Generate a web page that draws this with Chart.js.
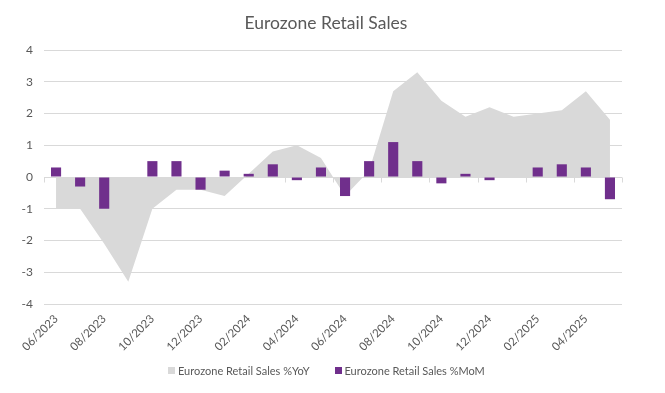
<!DOCTYPE html>
<html>
<head>
<meta charset="utf-8">
<script src="https://cdn.jsdelivr.net/npm/chart.js@4.4.1/dist/chart.umd.min.js"></script>
<style>
  html, body { margin: 0; padding: 0; background: #fff; }
  .chart-wrap { width: 665px; height: 393px; position: relative; }
  .chart-legend {
    position: absolute; left: 168px; top: 362px; height: 16px;
    display: flex; align-items: center;
    font: 11px Lato, "Open Sans", sans-serif; color: #595959;
    white-space: nowrap;
  }
  .legend-item { display: flex; align-items: center; margin-right: 25px; }
  .legend-box { width: 7px; height: 7px; margin-right: 3px; }
</style>
</head>
<body>
<div class="chart-wrap">
  <canvas id="chart"></canvas>
  <div class="chart-legend" id="legend"></div>
</div>
<script>
const months = [
  '06/2023', '07/2023', '08/2023', '09/2023', '10/2023', '11/2023',
  '12/2023', '01/2024', '02/2024', '03/2024', '04/2024', '05/2024',
  '06/2024', '07/2024', '08/2024', '09/2024', '10/2024', '11/2024',
  '12/2024', '01/2025', '02/2025', '03/2025', '04/2025', '05/2025'
];
const salesYoY = [-1.0, -1.0, -2.1, -3.3, -1.0, -0.4, -0.4, -0.6, 0.1, 0.8, 1.0, 0.6,
                  -0.6, 0.2, 2.7, 3.3, 2.4, 1.9, 2.2, 1.9, 2.0, 2.1, 2.7, 1.8];
const salesMoM = [0.3, -0.3, -1.0, 0, 0.5, 0.5, -0.4, 0.2, 0.1, 0.4, -0.1, 0.3,
                  -0.6, 0.5, 1.1, 0.5, -0.2, 0.1, -0.1, 0, 0.3, 0.4, 0.3, -0.7];

const FONT = 'Lato, "Open Sans", sans-serif';
const TEXT = '#595959';
const GRID = '#d9d9d9';

// Excel-style category axis drawn at zero, with tick marks every 2 months
const zeroAxis = {
  id: 'zeroAxis',
  beforeDatasetsDraw(chart) {
    const { ctx, chartArea, scales } = chart;
    const y0 = Math.round(scales.y.getPixelForValue(0)) + 0.5;
    const step = scales.x.getPixelForValue(1) - scales.x.getPixelForValue(0);
    ctx.save();
    ctx.strokeStyle = GRID;
    ctx.lineWidth = 1;
    ctx.beginPath();
    ctx.moveTo(chartArea.left, y0);
    ctx.lineTo(chartArea.right, y0);
    for (let i = 0; i <= months.length; i += 2) {
      const x = Math.round(scales.x.getPixelForValue(i) - step / 2) + 0.5;
      ctx.moveTo(x, y0);
      ctx.lineTo(x, y0 + 5);
    }
    ctx.stroke();
    ctx.restore();
  }
};

// HTML legend built from the datasets
const htmlLegend = {
  id: 'htmlLegend',
  afterUpdate(chart) {
    const box = document.getElementById('legend');
    box.innerHTML = '';
    chart.data.datasets.forEach(ds => {
      const item = document.createElement('span');
      item.className = 'legend-item';
      const swatch = document.createElement('span');
      swatch.className = 'legend-box';
      swatch.style.background = ds.backgroundColor;
      const label = document.createElement('span');
      label.textContent = ds.label;
      item.appendChild(swatch);
      item.appendChild(label);
      box.appendChild(item);
    });
  }
};

new Chart(document.getElementById('chart').getContext('2d'), {
  type: 'bar',
  data: {
    labels: months,
    datasets: [
      {
        type: 'line',
        label: 'Eurozone Retail Sales %YoY',
        data: salesYoY,
        backgroundColor: GRID,
        borderColor: GRID,
        borderWidth: 0,
        pointRadius: 0,
        fill: 'origin',
        tension: 0,
        order: 2
      },
      {
        type: 'bar',
        label: 'Eurozone Retail Sales %MoM',
        data: salesMoM,
        backgroundColor: '#702f8c',
        barPercentage: 0.42,
        categoryPercentage: 1,
        order: 1
      }
    ]
  },
  options: {
    responsive: true,
    maintainAspectRatio: false,
    devicePixelRatio: 1,
    animation: false,
    layout: { padding: { left: 15, right: 28, top: 0, bottom: 42 } },
    plugins: {
      title: {
        display: true,
        text: 'Eurozone Retail Sales',
        color: TEXT,
        font: { family: FONT, size: 17.5, weight: 'normal' },
        padding: { top: 13, bottom: 16 }
      },
      legend: { display: false },
      tooltip: { enabled: false }
    },
    scales: {
      x: {
        offset: true,
        grid: { display: false },
        border: { display: false },
        ticks: {
          color: TEXT,
          font: { family: FONT, size: 11.5 },
          autoSkip: false,
          maxRotation: 45,
          minRotation: 45,
          padding: 0,
          callback: (v, i) => (i % 2 === 0 ? months[i] : '')
        },
        afterFit(scale) { scale.height = 47; }
      },
      y: {
        min: -4,
        max: 4,
        ticks: {
          stepSize: 1,
          color: TEXT,
          font: { family: FONT, size: 12 },
          padding: 11
        },
        grid: { color: GRID, drawTicks: false },
        border: { display: false },
        afterFit(scale) { scale.width = 29; }
      },
      // empty right-hand spacer so the plot ends where Excel's does
      spacer: {
        position: 'right',
        grid: { display: false },
        ticks: { display: false },
        border: { display: false },
        afterFit(scale) { scale.width = 15; }
      }
    }
  },
  plugins: [zeroAxis, htmlLegend]
});
</script>
</body>
</html>
